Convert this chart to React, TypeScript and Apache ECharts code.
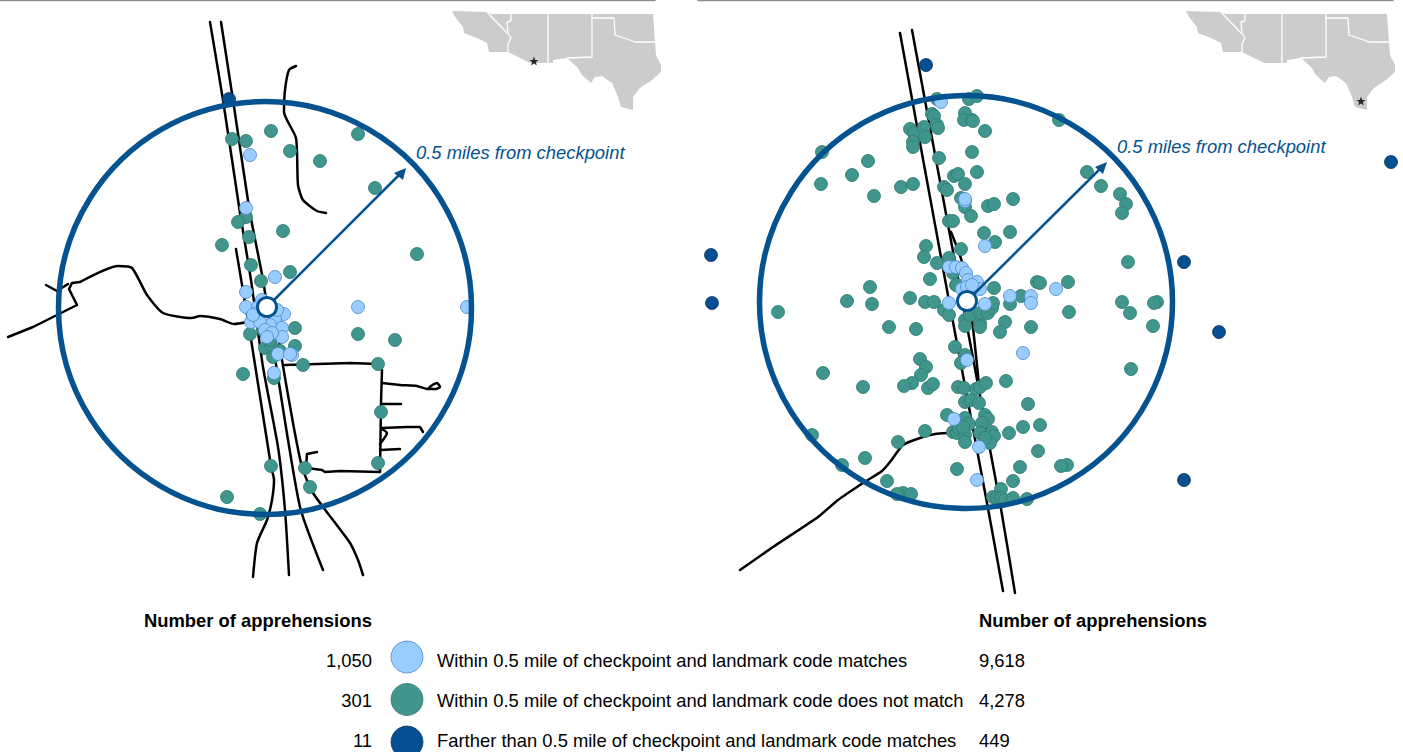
import React, { useEffect, useRef } from "react";
import * as echarts from "echarts";

type P = [number, number];

// ---- Left panel points
const leftTeal: P[] = [[232,139],[246,141],[271,131],[290,151],[320,161],[246,217],[238,222],[249,237],[222,245],[283,231],[251,265],[261,281],[290,272],[358,134],[375,188],[417,254],[358,334],[395,340],[378,364],[381,412],[378,463],[250,334],[295,328],[295,346],[303,365],[243,374],[271,466],[305,468],[310,487],[227,497],[260,514],[265,348],[271,345],[270,340],[273,357],[280,351],[274,378],[263,330]];
const leftLight: P[] = [[250,155],[246,208],[275,277],[358,307],[467,307],[246,292],[246,307],[251,322],[284,314],[275,319],[282,328],[282,337],[267,327],[270,325],[278,354],[292,355],[290,354],[274,373],[258,307],[262,300],[257,313],[260,322],[277,310],[265,330],[272,333],[253,315],[267,337]];
const leftDark: P[] = [[229,99]];

// ---- Right panel points
const rightTeal: P[] = [[822,152],[868,161],[852,175],[821,184],[874,196],[901,187],[913,184],[910,129],[914,133],[924,127],[925,137],[913,142],[913,147],[932,114],[934,116],[937,125],[938,128],[937,99],[965,113],[964,120],[972,120],[973,121],[985,131],[969,99],[977,96],[972,152],[977,172],[939,158],[954,176],[958,174],[965,184],[944,187],[947,190],[961,198],[965,207],[971,216],[988,206],[994,204],[1013,199],[949,221],[953,221],[984,233],[1010,232],[995,242],[926,246],[924,257],[937,263],[961,249],[949,258],[930,279],[953,273],[870,287],[994,288],[1037,282],[956,285],[957,285],
[847,301],[778,312],[872,304],[910,298],[925,302],[934,302],[944,310],[949,315],[889,327],[916,329],[965,320],[965,326],[980,323],[980,327],[970,315],[980,313],[988,313],[992,308],[993,303],[1010,304],[1021,296],[1005,322],[1000,332],[1031,327],[955,347],[965,355],[961,363],[920,359],[926,367],[921,375],[912,383],[904,386],[928,388],[933,384],[863,387],[823,373],[958,387],[964,388],[976,389],[980,387],[986,383],[1006,381],[965,402],[971,400],[979,403],[1028,404],[947,415],[925,431],[957,469],[1023,427],[1009,433],[1040,425],[1038,451],[1020,467],[1013,481],[1001,489],[993,497],[997,498],[1001,498],[1005,500],[1013,498],[1027,499],[903,493],[911,494],[898,442],[953,432],[957,433],[961,423],[965,418],[969,424],[959,428],[965,435],[965,442],[963,427],[985,415],[988,419],[982,423],[980,433],[992,432],[994,436],[990,443],[985,438],[865,458],[842,465],[812,435],[887,481],[897,494],
[1087,172],[1101,186],[1120,194],[1126,204],[1122,213],[1128,262],[1068,282],[1040,283],[1059,120],[1122,302],[1157,302],[1154,303],[1130,313],[1069,312],[1153,326],[1131,369],[1067,465],[1061,466]];
const rightLight: P[] = [[941,102],[965,201],[965,199],[985,246],[949,267],[956,267],[962,268],[966,273],[968,280],[977,282],[980,289],[962,289],[967,287],[972,285],[949,303],[985,304],[1010,296],[1031,296],[1031,303],[1056,289],[1023,353],[967,360],[954,419],[979,447],[977,480]];
const rightDark: P[] = [[926,65],[711,255],[712,303],[1391,162],[1184,262],[1219,332],[1184,480]];

// ---- Left panel roads: curved ones, then ones with sharp corners
const leftCurvedRoads: P[][] = [
  [[236,249],[250,333],[271,466],[274,480],[272,500],[267,520],[257,543],[253,577]],
  [[210,22],[223,100],[240,213],[251,280],[263,367],[278,447],[285,510],[289,575]],
  [[221,22],[233,100],[250,213],[263,280],[278,377],[300,507],[323,570]],
  [[275,310],[282,360],[293,423],[302,467],[313,493],[350,543],[358,560],[363,575]],
  [[296,66],[289,70],[285,90],[284,112],[296,138],[298,185],[303,200],[317,211],[326,213]],
  [[80,282],[118,266],[132,268],[147,295],[163,313],[192,318],[200,316],[220,319],[234,324],[248,322]],
  [[382,383],[400,385],[417,386],[428,389],[436,389],[440,387],[437,383],[431,386],[428,389]],
  [[382,429],[387,433],[380,444]],
];
const leftSharpRoads: P[][] = [
  [[8,337],[33,327],[57,315],[77,305],[69,289],[72,283],[80,282]],
  [[46,285],[57,291],[68,284]],
  [[285,365],[350,363],[378,364]],
  [[382,370],[381,403],[380,472],[340,471],[325,472],[322,470],[307,468]],
  [[317,452],[307,454],[306,467]],
  [[382,404],[401,404]],
  [[382,428],[407,427],[420,427],[423,432]],
  [[380,450],[400,449]],
];

// ---- Right panel roads
const rightRoads: P[][] = [
  [[900,33],[947,290],[987,503],[1003,591]],
  [[912,30],[949,230],[1000,503],[1015,593]],
  [[951,232],[962,262],[972,320],[979,385]],
  [[740,570],[773,547],[818,517],[838,500],[863,483],[882,471],[890,462],[903,445],[920,438],[935,434],[948,433]],
];

// ---- State map, left copy (the right copy is shifted)
const mapOutline: P[] = [[452,11],[487,12],[492,14],[653,14],[655,42],[656,55],[661,65],[661,72],[652,80],[640,88],[633,97],[633,110],[621,107],[618,97],[612,83],[602,76],[595,77],[591,83],[582,75],[577,67],[567,58],[553,60],[553,63],[530,63],[508,52],[489,52],[487,43],[477,38],[464,33],[463,27],[455,17]];
const mapBorders: P[][] = [
  [[487,12],[507,33]],
  [[511,14],[511,21],[507,22],[508,33],[511,38],[508,44],[508,52]],
  [[548,14],[548,63]],
  [[592,14],[592,57],[567,58]],
  [[592,18],[614,18],[615,35],[627,39],[635,42],[642,42],[655,42]],
];
const mapShift = 734;
const stars: P[] = [[534,61],[1361,101]];

// ---- Annotation geometry
const rings: P[] = [[265,308],[966,302]];
const checkpoints: P[] = [[267,307],[967,301]];
const shafts: P[][] = [[[274,300],[402,172]],[[975,293],[1103,166]]];
const arrowHeads: P[][] = [[[406,168],[394,173],[403,180]],[[1107,162],[1095,167],[1103,174]]];
const topRules: P[][] = [[[0,0.5],[655,0.5]],[[698,0.5],[1393,0.5]]];

// ---- Legend
const legendTitle = "Number of apprehensions";
const legendLabels = [
  "Within 0.5 mile of checkpoint and landmark code matches",
  "Within 0.5 mile of checkpoint and landmark code does not match",
  "Farther than 0.5 mile of checkpoint and landmark code matches",
];
const leftCounts = ["1,050", "301", "11"];
const rightCounts = ["9,618", "4,278", "449"];
const annotation = "0.5 miles from checkpoint";

const LIGHT = "#99ccff";
const LIGHT_B = "#4a86c8";
const TEAL = "#40968c";
const TEAL_B = "#2f7a70";
const DARK = "#044f92";
const DARK_B = "#17375e";
const RING = "#04528f";
const FONT = "'Liberation Sans', Arial, sans-serif";
const FS = 18.4;
const DOT = 13;

const STAR = "path://M0,-10 L2.6,-3.2 L9.5,-3.1 L4.1,1.2 L5.9,8.1 L0,4.2 L-5.9,8.1 L-4.1,1.2 L-9.5,-3.1 L-2.6,-3.2 Z";

function lineSeries(pts: P[], color: string, width: number, z: number, smooth: number | boolean = false) {
  return {
    type: "line" as const,
    data: pts,
    showSymbol: false,
    symbol: "none",
    silent: true,
    smooth,
    z,
    lineStyle: { color, width, join: "round", cap: "round" },
  };
}

function polygonSeries(polys: P[][], fill: string, z: number) {
  return {
    type: "custom" as const,
    silent: true,
    z,
    data: polys.map((_, i) => [i]),
    encode: { x: 0, y: 0 },
    renderItem: (params: any, api: any) => ({
      type: "polygon",
      shape: { points: polys[params.dataIndex].map((p) => api.coord(p)) },
      style: { fill, stroke: "none" },
    }),
  };
}

function dotSeries(pts: P[], size: number, color: string, border: string, bw: number, z: number) {
  return {
    type: "scatter" as const,
    data: pts,
    symbol: "circle",
    symbolSize: size,
    silent: true,
    z,
    itemStyle: { color, borderColor: border, borderWidth: bw, opacity: 1 },
  };
}

function buildOption() {
  const shiftedOutline = mapOutline.map(([x, y]) => [x + mapShift, y] as P);
  const series: any[] = [];
  topRules.forEach((r) => series.push(lineSeries(r, "#8c8c8c", 1.5, 1)));
  series.push(polygonSeries([mapOutline, shiftedOutline], "#cccccc", 1));
  mapBorders.forEach((b) => {
    series.push(lineSeries(b, "#ffffff", 1.3, 2));
    series.push(lineSeries(b.map(([x, y]) => [x + mapShift, y] as P), "#ffffff", 1.3, 2));
  });
  series.push({
    type: "scatter", data: stars, symbol: STAR, symbolSize: 9, silent: true, z: 3,
    itemStyle: { color: "#000000" },
  });
  [...leftCurvedRoads, ...rightRoads].forEach((r) => series.push(lineSeries(r, "#000000", 2.5, 4, 0.2)));
  leftSharpRoads.forEach((r) => series.push(lineSeries(r, "#000000", 2.5, 4)));
  series.push(dotSeries(leftDark, DOT, DARK, DARK_B, 0.8, 5));
  series.push(dotSeries(rightDark, DOT, DARK, DARK_B, 0.8, 5));
  series.push(dotSeries(leftTeal, DOT, TEAL, TEAL_B, 0.8, 6));
  series.push(dotSeries(rightTeal, DOT, TEAL, TEAL_B, 0.8, 6));
  series.push(dotSeries(leftLight, DOT, LIGHT, LIGHT_B, 0.8, 7));
  series.push(dotSeries(rightLight, DOT, LIGHT, LIGHT_B, 0.8, 7));
  series.push({
    type: "scatter", data: rings, symbol: "circle", symbolSize: 413, silent: true, z: 8,
    itemStyle: { color: "rgba(0,0,0,0)", borderColor: RING, borderWidth: 5.5, opacity: 1 },
  });
  shafts.forEach((s) => series.push(lineSeries(s, RING, 2.5, 9)));
  series.push(polygonSeries(arrowHeads, RING, 9));
  series.push(dotSeries(checkpoints, 19, "#ffffff", RING, 3, 10));

  const txt = (text: string, x: number, y: number, extra: any = {}) => ({
    type: "text",
    x,
    y,
    silent: true,
    style: {
      text,
      fill: "#000000",
      font: `${FS}px ${FONT}`,
      verticalAlign: "middle",
      align: "left",
      ...extra,
    },
  });
  const rowsY = [660, 700, 740];
  const swatchY = [657, 699.5, 742];
  const swatchC = [
    [LIGHT, LIGHT_B],
    [TEAL, TEAL_B],
    [DARK, DARK_B],
  ];
  const graphics: any[] = [
    txt(annotation, 416, 152, { fill: RING, font: `italic ${FS}px ${FONT}` }),
    txt(annotation, 1117, 146, { fill: RING, font: `italic ${FS}px ${FONT}` }),
    txt(legendTitle, 144, 620, { font: `bold ${FS}px ${FONT}` }),
    txt(legendTitle, 979, 620, { font: `bold ${FS}px ${FONT}` }),
  ];
  legendLabels.forEach((label, i) => {
    graphics.push({
      type: "circle",
      silent: true,
      shape: { cx: 407, cy: swatchY[i], r: 16 },
      style: { fill: swatchC[i][0], stroke: swatchC[i][1], lineWidth: 0.8 },
    });
    graphics.push(txt(label, 437, rowsY[i]));
    graphics.push(txt(leftCounts[i], 372, rowsY[i], { align: "right" }));
    graphics.push(txt(rightCounts[i], 979, rowsY[i]));
  });

  return {
    animation: false,
    backgroundColor: "#ffffff",
    grid: { left: 0, right: 0, top: 0, bottom: 0, containLabel: false },
    xAxis: { type: "value", min: 0, max: 1403, show: false },
    yAxis: { type: "value", min: 0, max: 752, inverse: true, show: false },
    tooltip: { show: false },
    legend: { show: false },
    series,
    graphic: { elements: graphics },
  };
}

export default function App() {
  const ref = useRef<HTMLDivElement>(null);
  useEffect(() => {
    if (!ref.current) return;
    document.body.style.margin = "0";
    document.body.style.overflow = "hidden";
    const chart = echarts.init(ref.current, undefined, { renderer: "svg" });
    chart.setOption(buildOption() as any);
    return () => chart.dispose();
  }, []);
  return <div ref={ref} style={{ width: 1403, height: 752, background: "#fff" }} />;
}
